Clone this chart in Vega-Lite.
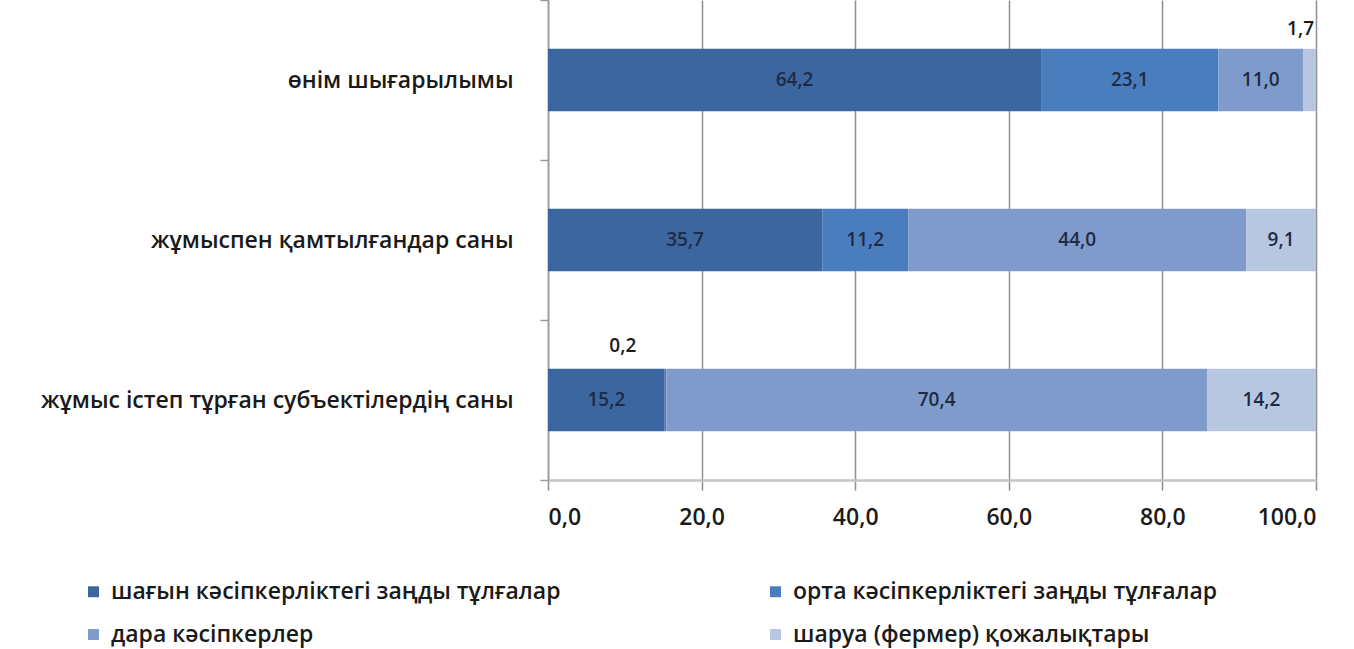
{
  "$schema": "https://vega.github.io/schema/vega-lite/v6.json",
  "autosize": "none",
  "width": 768,
  "height": 480,
  "padding": {"left": 548, "top": 0, "right": 38, "bottom": 169},
  "background": "white",
  "config": {
    "view": {"stroke": null},
    "font": "Open Sans"
  },
  "data": {
    "values": [
      {"cat": "өнім шығарылымы", "series": "шағын кәсіпкерліктегі заңды тұлғалар", "ord": 1, "value": 64.2},
      {"cat": "өнім шығарылымы", "series": "орта кәсіпкерліктегі заңды тұлғалар", "ord": 2, "value": 23.1},
      {"cat": "өнім шығарылымы", "series": "дара кәсіпкерлер", "ord": 3, "value": 11.0},
      {"cat": "өнім шығарылымы", "series": "шаруа (фермер) қожалықтары", "ord": 4, "value": 1.7},
      {"cat": "жұмыспен қамтылғандар саны", "series": "шағын кәсіпкерліктегі заңды тұлғалар", "ord": 1, "value": 35.7},
      {"cat": "жұмыспен қамтылғандар саны", "series": "орта кәсіпкерліктегі заңды тұлғалар", "ord": 2, "value": 11.2},
      {"cat": "жұмыспен қамтылғандар саны", "series": "дара кәсіпкерлер", "ord": 3, "value": 44.0},
      {"cat": "жұмыспен қамтылғандар саны", "series": "шаруа (фермер) қожалықтары", "ord": 4, "value": 9.1},
      {"cat": "жұмыс істеп тұрған субъектілердің саны", "series": "шағын кәсіпкерліктегі заңды тұлғалар", "ord": 1, "value": 15.2},
      {"cat": "жұмыс істеп тұрған субъектілердің саны", "series": "орта кәсіпкерліктегі заңды тұлғалар", "ord": 2, "value": 0.2},
      {"cat": "жұмыс істеп тұрған субъектілердің саны", "series": "дара кәсіпкерлер", "ord": 3, "value": 70.4},
      {"cat": "жұмыс істеп тұрған субъектілердің саны", "series": "шаруа (фермер) қожалықтары", "ord": 4, "value": 14.2}
    ]
  },
  "transform": [
    {"stack": "value", "groupby": ["cat"], "sort": [{"field": "ord", "order": "ascending"}], "as": ["x0", "x1"]},
    {"calculate": "(datum.x0 + datum.x1) / 2", "as": "mid"},
    {"calculate": "replace(format(datum.value, '.1f'), '.', ',')", "as": "lbl"}
  ],
  "encoding": {
    "y": {
      "field": "cat",
      "type": "nominal",
      "sort": ["өнім шығарылымы", "жұмыспен қамтылғандар саны", "жұмыс істеп тұрған субъектілердің саны"],
      "scale": {"paddingInner": 0, "paddingOuter": 0},
      "axis": {
        "title": null,
        "labelFontSize": 23,
        "labelFontWeight": 600,
        "labelColor": "#1a1a1a",
        "labelPadding": 27,
        "labelLimit": 600,
        "tickBand": "extent",
        "tickSize": 8,
        "tickColor": "#9a9a9a",
        "tickWidth": 1.5,
        "domainColor": "#9a9a9a",
        "domainWidth": 1.5,
        "grid": false
      }
    }
  },
  "layer": [
    {
      "mark": {"type": "bar", "height": {"band": 0.39}},
      "encoding": {
        "x": {
          "field": "x0",
          "type": "quantitative",
          "scale": {"domain": [0, 100], "nice": false},
          "axis": {
            "title": null,
            "values": [0, 20, 40, 60, 80, 100],
            "labelExpr": "replace(format(datum.value, '.1f'), '.', ',')",
            "labelFontSize": 23,
            "labelFontWeight": 600,
            "labelColor": "#1a1a1a",
            "labelPadding": 16,
            "grid": true,
            "gridColor": "#8f8f8f",
            "gridWidth": 1.5,
            "domainColor": "#c4c4c4",
            "domainWidth": 2.5,
            "tickColor": "#8f8f8f",
            "tickWidth": 1.5,
            "tickSize": 10
          }
        },
        "x2": {"field": "x1"},
        "color": {
          "field": "series",
          "type": "nominal",
          "scale": {
            "domain": ["шағын кәсіпкерліктегі заңды тұлғалар", "орта кәсіпкерліктегі заңды тұлғалар", "дара кәсіпкерлер", "шаруа (фермер) қожалықтары"],
            "range": ["#3c669f", "#4a7dbe", "#7e9bcb", "#b8c7e1"]
          },
          "legend": {
            "title": null,
            "orient": "none",
            "legendX": -466,
            "legendY": 580,
            "direction": "horizontal",
            "columns": 2,
            "columnPadding": 203,
            "rowPadding": 19,
            "symbolType": "square",
            "symbolSize": 120,
            "symbolStrokeWidth": 0,
            "labelFontSize": 23,
            "labelFontWeight": 600,
            "labelColor": "#1a1a1a",
            "labelLimit": 700,
            "labelOffset": 6
          }
        }
      }
    },
    {
      "transform": [{"filter": "datum.value >= 5"}],
      "mark": {"type": "text", "fontSize": 19, "fontWeight": 600, "color": "#1f2b45", "align": "center", "baseline": "middle"},
      "encoding": {
        "x": {"field": "mid", "type": "quantitative"},
        "text": {"field": "lbl"}
      }
    },
    {
      "transform": [{"filter": "datum.value < 1"}],
      "mark": {"type": "text", "fontSize": 19, "fontWeight": 600, "color": "#1a1a1a", "align": "right", "baseline": "middle", "dy": -54, "dx": -30},
      "encoding": {
        "x": {"field": "x1", "type": "quantitative"},
        "text": {"field": "lbl"}
      }
    },
    {
      "transform": [{"filter": "datum.value >= 1 && datum.value < 5"}],
      "mark": {"type": "text", "fontSize": 19, "fontWeight": 600, "color": "#1a1a1a", "align": "right", "baseline": "middle", "dy": -51, "dx": -2},
      "encoding": {
        "x": {"field": "x1", "type": "quantitative"},
        "text": {"field": "lbl"}
      }
    }
  ]
}
